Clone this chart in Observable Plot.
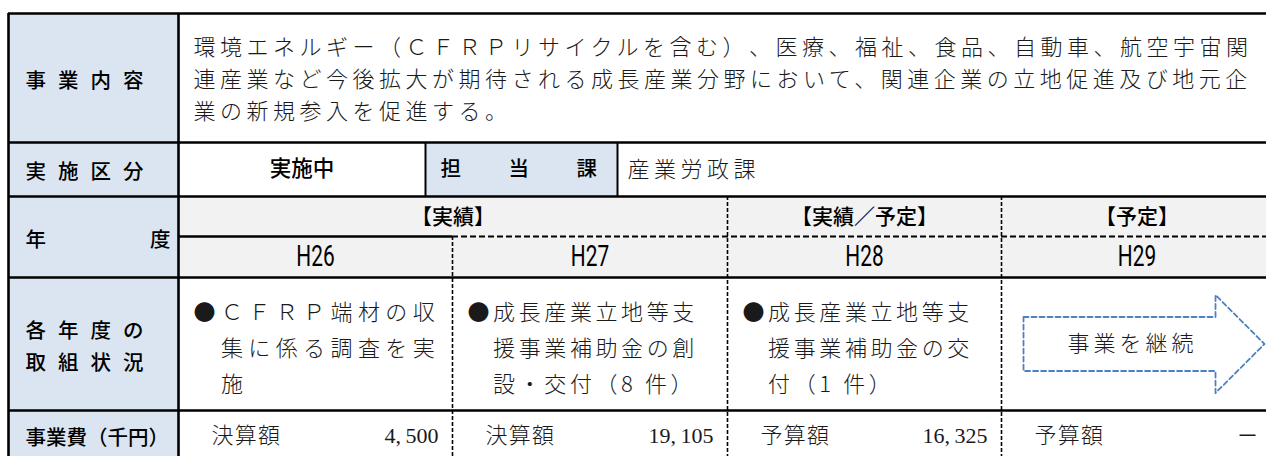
<!DOCTYPE html>
<html><head><meta charset="utf-8">
<script src="https://cdn.jsdelivr.net/npm/d3@7"></script>
<script src="https://cdn.jsdelivr.net/npm/@observablehq/plot@0.6"></script>
<style>
html,body{margin:0;padding:0;background:#fff;}
#chart svg{display:block;}
#chart svg text{text-spacing-trim:space-all;}
</style></head><body><div id="chart"></div>
<script>
// ---------- data ----------
const rowLabels = ["事業内容", "実施区分", "年度", "各年度の\n取組状況", "事業費（千円）"];
const description = [
  "環境エネルギー（ＣＦＲＰリサイクルを含む）、医療、福祉、食品、自動車、航空宇宙関",
  "連産業など今後拡大が期待される成長産業分野において、関連企業の立地促進及び地元企",
  "業の新規参入を促進する。"
];
const status = "実施中";
const deptLabel = "担当課";
const department = "産業労政課";
const periods = ["【実績】", "【実績／予定】", "【予定】"];
const periodSpans = [[0, 2], [2, 3], [3, 4]];
const years = ["H26", "H27", "H28", "H29"];
const activities = [
  "●ＣＦＲＰ端材の収\n　集に係る調査を実\n　施",
  "●成長産業立地等支\n　援事業補助金の創\n　設・交付（8 件）",
  "●成長産業立地等支\n　援事業補助金の交\n　付（1 件）",
  null
];
const continuation = "事業を継続";
const budgetTypes = ["決算額", "決算額", "予算額", "予算額"];
const budgets = [4500, 19105, 16325, null];

// ---------- layout ----------
const W = 1266, H = 456;
const colX = [8, 178, 452, 727, 1001, 1272];      // label col + 4 year cols
const rowY = [13, 142, 196, 236, 277, 410, 462];
const row2X = [178, 425, 617, 1272];
const yearX = colX.slice(1);
const mid = (a, b) => (a + b) / 2;
const BLUE = "#dbe5f1", GREY = "#f2f2f2";
const GOTHIC = "Noto Sans CJK JP";
const MINCHO = "Noto Sans CJK JP";
const SERIF = "Liberation Serif, Noto Sans CJK JP";
const NARROW = "Roboto, Liberation Sans, sans-serif";

const labelRowsCenter = [mid(rowY[0], rowY[1]), mid(rowY[1], rowY[2]), mid(rowY[2], rowY[4]), mid(rowY[4], rowY[5]), mid(rowY[5], rowY[6]) - 1];
const labelSpacing = [12, 12, 104, 12, 0];

const yearCols = years.map((y, i) => ({i, x1: yearX[i], x2: yearX[i + 1]}));

// horizontal rules
const hSolid = [
  {y: rowY[0], x1: colX[0], x2: colX[5]},
  {y: rowY[1], x1: colX[0], x2: colX[5]},
  {y: rowY[2], x1: colX[0], x2: colX[5]},
  {y: rowY[3], x1: colX[1], x2: colX[2]},
  {y: rowY[4], x1: colX[0], x2: colX[5]},
  {y: rowY[5], x1: colX[0], x2: colX[5]}
];
const hDashed = [{y: rowY[3], x1: colX[2], x2: colX[5]}];
const vSolid = [
  {x: colX[0], y1: rowY[0], y2: rowY[6]},
  {x: colX[1], y1: rowY[0], y2: rowY[6]}
];
const vThin = [
  {x: row2X[1], y1: rowY[1], y2: rowY[2]},
  {x: row2X[2], y1: rowY[1], y2: rowY[2]}
];
const vDashed = [
  {x: colX[2], y1: rowY[3], y2: rowY[6]},
  {x: colX[3], y1: rowY[2], y2: rowY[6]},
  {x: colX[4], y1: rowY[2], y2: rowY[6]}
];

// arrow in the H29 activity cell
const ac = mid(rowY[4], rowY[5]);
const ax0 = colX[4] + 22, axN = colX[4] + 214, axT = colX[4] + 263;
const arrow = [[ax0, ac - 27], [axN, ac - 27], [axN, ac - 49], [axT, ac], [axN, ac + 49], [axN, ac + 27], [ax0, ac + 27], [ax0, ac - 27]];

const fmt = d3.formatLocale({decimal: ".", thousands: ",\u2009", grouping: [3], currency: ["", ""]}).format(",");
const budgetRows = budgets.map((v, i) => ({i, type: budgetTypes[i], value: v == null ? "－" : fmt(v)}));
const actRows = activities.map((t, i) => ({i, t})).filter(d => d.t != null);
const actPitchExtra = [5.4, 3.6, 3.6];
const deptChars = Array.from(deptLabel);

const svg = Plot.plot({
  width: W, height: H, margin: 0,
  x: {domain: [0, W], range: [0, W], axis: null},
  y: {domain: [0, H], range: [0, H], axis: null},
  style: {background: "#fff", fontFamily: GOTHIC},
  marks: [
    // backgrounds
    Plot.rect([{x1: colX[0], x2: colX[1], y1: rowY[0], y2: rowY[6]}], {x1: "x1", x2: "x2", y1: "y1", y2: "y2", fill: BLUE}),
    Plot.rect([{x1: row2X[1], x2: row2X[2], y1: rowY[1], y2: rowY[2]}], {x1: "x1", x2: "x2", y1: "y1", y2: "y2", fill: BLUE}),
    Plot.rect([{x1: colX[1], x2: colX[5], y1: rowY[2], y2: rowY[4]}], {x1: "x1", x2: "x2", y1: "y1", y2: "y2", fill: GREY}),
    // grid lines
    Plot.ruleY(hSolid, {y: "y", x1: "x1", x2: "x2", stroke: "#000", strokeWidth: 2.6}),
    Plot.ruleY(hDashed, {y: "y", x1: "x1", x2: "x2", stroke: "#000", strokeWidth: 1.8, strokeDasharray: "6,3"}),
    Plot.ruleX(vSolid, {x: "x", y1: "y1", y2: "y2", stroke: "#000", strokeWidth: 2.6}),
    Plot.ruleX(vThin, {x: "x", y1: "y1", y2: "y2", stroke: "#000", strokeWidth: 2}),
    Plot.ruleX(vDashed, {x: "x", y1: "y1", y2: "y2", stroke: "#000", strokeWidth: 1.6, strokeDasharray: "4,2"}),
    // row labels
    Plot.text(rowLabels, {x: colX[0] + 17, y: (d, i) => labelRowsCenter[i], text: d => d, textAnchor: "start",
      fontSize: 20.5, fontFamily: GOTHIC, fontWeight: 500, fill: "#000", lineHeight: 1.52, ariaDescription: "rowlabel"}),
    // description
    Plot.text(description, {x: colX[1] + 15, y: (d, i) => labelRowsCenter[0] + 2 + (i - 1) * 32, text: d => d, textAnchor: "start",
      fontSize: 22, fontFamily: MINCHO, fontWeight: 200, fill: "#1a1a1a", ariaDescription: "desc"}),
    // row 2
    Plot.text([status], {x: mid(row2X[0], row2X[1]), y: labelRowsCenter[1], text: d => d, fontSize: 21.5, fontFamily: GOTHIC, fontWeight: 500, fill: "#000"}),
    Plot.text(deptChars, {x: (d, i) => row2X[1] + 15 + i * 68, y: labelRowsCenter[1], text: d => d, textAnchor: "start", fontSize: 20.5, fontFamily: GOTHIC, fontWeight: 500, fill: "#000"}),
    Plot.text([department], {x: row2X[2] + 10, y: labelRowsCenter[1], text: d => d, textAnchor: "start", fontSize: 22, fontFamily: MINCHO, fontWeight: 200, fill: "#1a1a1a", ariaDescription: "dept"}),
    // period headers
    Plot.text(periods, {x: (d, i) => mid(yearX[periodSpans[i][0]], yearX[periodSpans[i][1]]), y: mid(rowY[2], rowY[3]) + 1, text: d => d,
      fontSize: 21, fontFamily: GOTHIC, fontWeight: 500, fill: "#000"}),
    // year headers
    Plot.text(yearCols, {x: d => mid(d.x1, d.x2), y: mid(rowY[3], rowY[4]), text: d => years[d.i], fontSize: 29, fontFamily: NARROW, fill: "#000", ariaDescription: "years"}),
    // activities
    Plot.text(actRows, {x: d => yearX[d.i] + 15, y: ac, text: "t", textAnchor: "start", lineHeight: 36 / 22,
      fontSize: 22, fontFamily: MINCHO, fontWeight: 200, fill: "#1a1a1a", ariaDescription: "acts"}),
    // continuation arrow
    Plot.line(arrow, {x: d => d[0], y: d => d[1], stroke: "#4f81bd", strokeWidth: 1.8, strokeDasharray: "5,3", curve: "linear"}),
    Plot.text([continuation], {x: yearX[3] + 129, y: ac, text: d => d, fontSize: 22, fontFamily: MINCHO, fontWeight: 200, fill: "#1a1a1a", dx: 2, ariaDescription: "cont"}),
    // budgets
    Plot.text(budgetRows, {x: d => yearX[d.i] + 33, y: labelRowsCenter[4], text: "type", textAnchor: "start", fontSize: 22, fontFamily: MINCHO, fontWeight: 200, fill: "#1a1a1a", ariaDescription: "btype"}),
    Plot.text(budgetRows, {x: d => yearX[d.i + 1] - 14, y: labelRowsCenter[4], text: "value", textAnchor: "end", fontSize: 22, fontFamily: SERIF, fill: "#1a1a1a"})
  ]
});

function texts(label) {
  return Array.from(svg.querySelectorAll(`g[aria-description="${label}"] text`));
}
function spacing(label, ls) {
  texts(label).forEach((t, i) => {
    const v = (typeof ls === "function" ? ls(i) : ls) + "px";
    t.style.letterSpacing = v;
    t.setAttribute("letter-spacing", v);
  });
}
spacing("rowlabel", i => labelSpacing[i]);
spacing("desc", 4.5);
spacing("dept", 4.5);
spacing("acts", i => actPitchExtra[actRows[i].i]);
spacing("cont", 4);
spacing("btype", 1.3);

// condense the year labels horizontally
texts("years").forEach(t => {
  const tr = t.getAttribute("transform");
  if (tr && tr.includes("translate")) {
    t.setAttribute("transform", tr + " scale(0.72,1)");
  } else {
    const x = +(t.getAttribute("x") || 0), y = +(t.getAttribute("y") || 0);
    t.setAttribute("x", 0); t.setAttribute("y", 0);
    t.setAttribute("transform", `translate(${x},${y}) scale(0.72,1)`);
  }
});

document.getElementById("chart").appendChild(svg);
</script></body></html>
